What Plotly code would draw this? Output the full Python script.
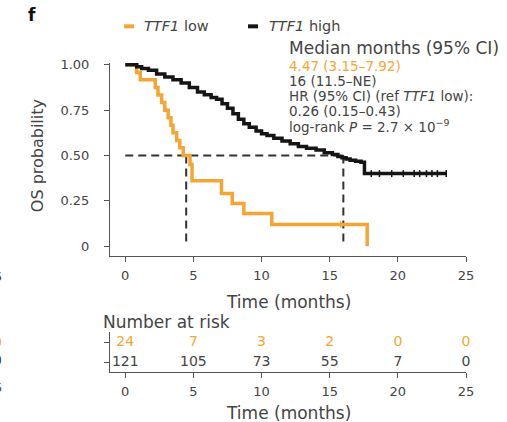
import plotly.graph_objects as go

# ---------------- data ----------------
low_t = [0, 0.83, 1.1, 2.2, 2.4, 2.67, 2.9, 3.15, 3.35, 3.5, 3.77, 4.0, 4.25, 4.75, 4.9, 7.06, 7.85, 8.7, 10.75, 17.75]
low_s = [1.0, 0.958, 0.917, 0.875, 0.833, 0.792, 0.75, 0.708, 0.667, 0.625, 0.583, 0.542, 0.50, 0.45, 0.36, 0.29, 0.235, 0.18, 0.12, 0.0]
low_cens_t = [15.8]
low_cens_s = [0.12]

high_t = [0, 0.84, 1.2, 1.7, 2.3, 2.9, 3.5, 4.1, 4.7, 5.3, 5.8, 6.3, 6.7, 7.1, 7.5, 7.9, 8.3, 8.7,
          9.1, 9.6, 10.0, 10.4, 10.9, 11.5, 12.1, 12.7, 13.3, 14.0, 14.6, 15.2, 15.6, 15.9, 16.2,
          16.5, 16.9, 17.3, 17.55, 23.6]
high_s = [1.0, 0.99, 0.98, 0.97, 0.95, 0.933, 0.917, 0.9, 0.875, 0.85, 0.835, 0.82, 0.81, 0.785,
          0.76, 0.73, 0.70, 0.675, 0.655, 0.635, 0.62, 0.61, 0.595, 0.58, 0.565, 0.55, 0.54, 0.53,
          0.515, 0.505, 0.495, 0.487, 0.48, 0.474, 0.468, 0.462, 0.40, 0.40]
high_cens_t = [18.05, 18.65, 19.55, 20.4, 21.2, 21.6, 22.1, 22.5, 22.9, 23.55]
high_cens_s = [0.40] * 10

median_low = 4.47
median_high = 16.0

risk_times = [0, 5, 10, 15, 20, 25]
risk_low = [24, 7, 3, 2, 0, 0]
risk_high = [121, 105, 73, 55, 7, 0]

y_ticks = [0, 0.25, 0.5, 0.75, 1.0]
y_ticklabels = ["0", "0.25", "0.50", "0.75", "1.00"]
x_ticks = [0, 5, 10, 15, 20, 25]

ORANGE = "#F5A533"
BLACK = "#151515"
TXT = "#444444"
AX = "#555555"
FONT = "DejaVu Sans"

# --------------- layout helpers (pixel -> paper) ---------------
L, R, T, B = 110, 466, 62.7, 372
W, H = 507, 422
def px_x(px):
    return (px - L) / (R - L)
def px_y(py):
    return (B - py) / (B - T)

fig = go.Figure()

# median dashed guides
dash_kw = dict(mode="lines", line=dict(color="#333333", width=2, dash="8px,5px"),
               hoverinfo="skip", showlegend=False, xaxis="x", yaxis="y")
fig.add_trace(go.Scatter(x=[0, median_high], y=[0.5, 0.5], **dash_kw))
fig.add_trace(go.Scatter(x=[median_low, median_low], y=[0.5, 0], **dash_kw))
fig.add_trace(go.Scatter(x=[median_high, median_high], y=[0.5, 0], **dash_kw))

# KM curves
fig.add_trace(go.Scatter(x=low_t, y=low_s, mode="lines", line=dict(color=ORANGE, width=3.5, shape="hv"),
                         showlegend=False, xaxis="x", yaxis="y"))
fig.add_trace(go.Scatter(x=high_t, y=high_s, mode="lines", line=dict(color=BLACK, width=3.5, shape="hv"),
                         showlegend=False, xaxis="x", yaxis="y"))
fig.add_trace(go.Scatter(x=low_cens_t, y=low_cens_s, mode="markers",
                         marker=dict(symbol="line-ns", size=5, line=dict(color=ORANGE, width=1.5)),
                         showlegend=False, xaxis="x", yaxis="y"))
fig.add_trace(go.Scatter(x=high_cens_t, y=high_cens_s, mode="markers",
                         marker=dict(symbol="line-ns", size=5, line=dict(color=BLACK, width=1.5)),
                         showlegend=False, xaxis="x", yaxis="y"))

# risk table
fig.add_trace(go.Scatter(x=risk_times, y=[1.5] * len(risk_times), mode="text",
                         text=[str(v) for v in risk_low], textfont=dict(color=ORANGE, size=14, family=FONT),
                         cliponaxis=False, showlegend=False, xaxis="x2", yaxis="y2"))
fig.add_trace(go.Scatter(x=risk_times, y=[0.5] * len(risk_times), mode="text",
                         text=[str(v) for v in risk_high], textfont=dict(color=TXT, size=14, family=FONT),
                         cliponaxis=False, showlegend=False, xaxis="x2", yaxis="y2"))

axis_common = dict(showline=True, linecolor=AX, linewidth=1, ticks="outside", ticklen=5,
                   tickcolor=AX, tickwidth=1, showgrid=False, zeroline=False,
                   tickfont=dict(family=FONT, size=13, color=TXT))

main_bottom = px_y(256)
risk_top = px_y(332)

fig.update_layout(
    width=W, height=H,
    margin=dict(l=L, r=W - R, t=T, b=H - B),
    plot_bgcolor="white", paper_bgcolor="white",
    font=dict(family=FONT, color=TXT),
    xaxis=dict(domain=[0, 1], range=[-1.12, 25], tickvals=x_ticks, anchor="y",
               ticklabelstandoff=2, **axis_common),
    yaxis=dict(domain=[main_bottom, 1], range=[-0.055, 1.01], tickvals=y_ticks,
               ticktext=y_ticklabels, anchor="x", ticklabelstandoff=12, **axis_common),
    xaxis2=dict(domain=[0, 1], range=[-1.12, 25], tickvals=x_ticks, anchor="y2",
                ticklabelstandoff=2, **axis_common),
    yaxis2=dict(domain=[0, risk_top], range=[0, 2], tickvals=[0.5, 1.5], showticklabels=False,
                anchor="x2", **axis_common),
)

ann = []
def add_text(text, px, py, size, color=TXT, xanchor="left", bold=False):
    ann.append(dict(text=("<b>%s</b>" % text) if bold else text, x=px_x(px), y=px_y(py),
                    xref="paper", yref="paper", xanchor=xanchor, yanchor="middle",
                    showarrow=False, font=dict(family=FONT, size=size, color=color)))

add_text("f", 26, 15, 17, color="#111111", bold=True)
add_text("<i>TTF1</i> low", 142, 26, 14.5)
add_text("<i>TTF1</i> high", 267, 26, 14.5)
add_text("Median months (95% CI)", 287, 47.5, 17)
add_text("4.47 (3.15–7.92)", 287, 65.5, 13.5, color=ORANGE)
add_text("16 (11.5–NE)", 287, 80.5, 13.5)
add_text("HR (95% CI) (ref <i>TTF1</i> low):", 287, 95.5, 13.5)
add_text("0.26 (0.15–0.43)", 287, 111, 13.5)
add_text("log-rank <i>P</i> = 2.7 × 10<sup>−9</sup>", 287, 126, 13.5)
add_text("OS probability", 37, 156, 16)
ann[-1]["textangle"] = -90
ann[-1]["xanchor"] = "center"
add_text("Time (months)", 288, 302, 17, xanchor="center")
add_text("Number at risk", 101, 322, 17)
add_text("Time (months)", 288, 413, 17, xanchor="center")
# clipped glyphs of the neighbouring panel at the left edge
add_text("5", 4, 276, 13, xanchor="right")
add_text("0", 4, 342, 14, color=ORANGE, xanchor="right")
add_text("0", 4, 360, 14, xanchor="right")
add_text("5", 4, 388, 13, xanchor="right")
fig.update_layout(annotations=ann)

shapes = [
    dict(type="line", xref="paper", yref="paper", x0=px_x(124), x1=px_x(134), y0=px_y(26), y1=px_y(26),
         line=dict(color=ORANGE, width=4)),
    dict(type="line", xref="paper", yref="paper", x0=px_x(248), x1=px_x(258), y0=px_y(26), y1=px_y(26),
         line=dict(color=BLACK, width=4)),
]
fig.update_layout(shapes=shapes)

fig.write_html("out.html")
